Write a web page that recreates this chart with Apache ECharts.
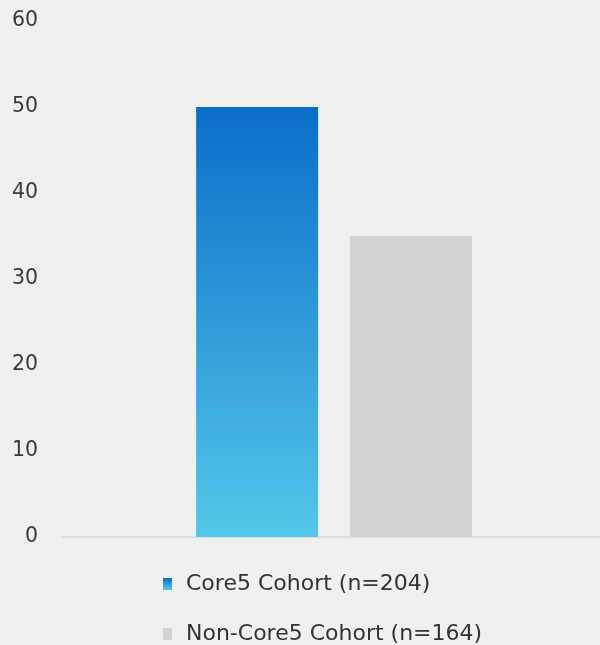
<!DOCTYPE html>
<html>
<head>
<meta charset="utf-8">
<script src="https://cdn.jsdelivr.net/npm/echarts@6/dist/echarts.min.js"></script>
<style>
html,body{margin:0;padding:0;background:#eff1f1;}
#c{width:600px;height:645px;}
</style>
</head>
<body>
<div id="c"></div>
<script>
var categories = ['Cohort'];
var seriesNames = ['Core5 Cohort (n=204)', 'Non-Core5 Cohort (n=164)'];
var core5Values = [50];
var nonCore5Values = [35];
var yTicks = [0, 10, 20, 30, 40, 50, 60];

var chart = echarts.init(document.getElementById('c'));
var font = '"DejaVu Sans", sans-serif';
function legendFor(name, top) {
  return {
    orient: 'vertical',
    left: 158,
    top: top,
    itemWidth: 9,
    itemHeight: 12,
    icon: 'rect',
    textStyle: { color: '#333', fontSize: 22, fontFamily: font, padding: [0, 0, 0, 9] },
    data: [name]
  };
}
chart.setOption({
  backgroundColor: '#eff1f1',
  animation: false,
  grid: { left: 62, right: -6, top: 21, bottom: 108, outerBoundsMode: 'none', containLabel: false },
  xAxis: {
    type: 'category',
    data: categories,
    axisLine: { show: true, lineStyle: { color: '#d6d9d9', width: 1.5 } },
    axisTick: { show: false },
    axisLabel: { show: false }
  },
  yAxis: {
    type: 'value',
    min: yTicks[0],
    max: yTicks[yTicks.length - 1],
    interval: 10,
    axisLine: { show: false },
    axisTick: { show: false },
    splitLine: { show: false },
    axisLabel: { color: '#3a3a3a', fontSize: 20.5, fontFamily: font, margin: 24 }
  },
  legend: [legendFor(seriesNames[0], 568), legendFor(seriesNames[1], 618)],
  series: [
    {
      name: seriesNames[0],
      type: 'bar',
      data: core5Values,
      barWidth: 122,
      barGap: '26%',
      itemStyle: {
        color: new echarts.graphic.LinearGradient(0, 0, 0, 1, [
          { offset: 0, color: '#0a6ec9' },
          { offset: 1, color: '#54c7e9' }
        ])
      }
    },
    {
      name: seriesNames[1],
      type: 'bar',
      data: nonCore5Values,
      barWidth: 122,
      itemStyle: { color: '#d4d2d3' }
    }
  ]
});
</script>
</body>
</html>
